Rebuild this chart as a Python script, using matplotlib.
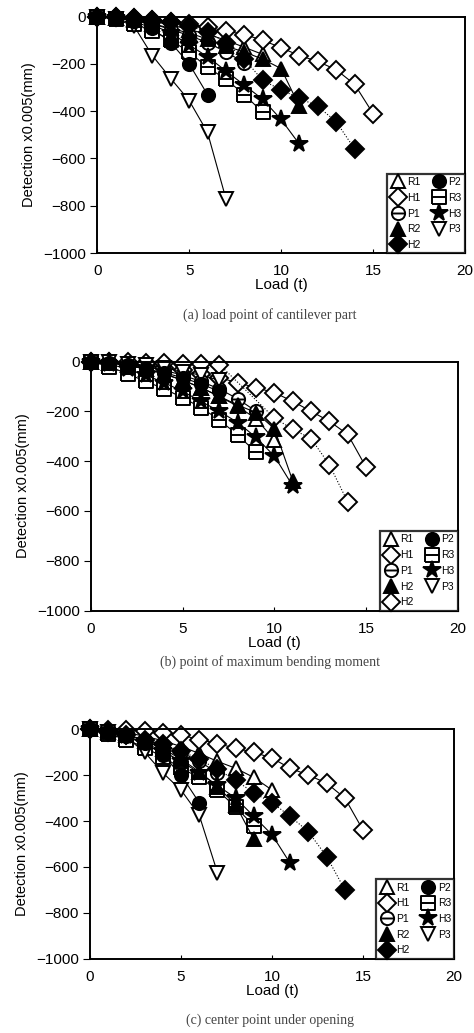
import matplotlib
matplotlib.use("Agg")
import matplotlib.pyplot as plt
from matplotlib.path import Path

# marker shapes: circle / square with a horizontal bar
circ_bar = Path.make_compound_path(Path.unit_circle(), Path([[-1, 0], [1, 0]]))
sq_bar = Path.make_compound_path(
    Path([[-1, -1], [1, -1], [1, 1], [-1, 1], [-1, -1]]), Path([[-1, 0], [1, 0]]))

# ---- (a) load point of cantilever part ----
a_R1 = [0, -5, -10, -20, -35, -55, -75, -100, -130, -160]
a_H1 = [0, -3, -8, -14, -22, -32, -45, -61, -76, -100, -132, -165, -190, -225, -287, -410]
a_P1 = [0, -5, -15, -30, -55, -80, -110, -150, -195]
a_R2 = [0, -5, -15, -30, -50, -70, -95, -125, -150, -180, -220, -380]
a_H2 = [0, -3, -8, -15, -25, -40, -65, -110, -180, -270, -310, -345, -380, -445, -560]
a_P2 = [0, -5, -20, -50, -110, -200, -330]
a_R3 = [0, -10, -30, -60, -100, -150, -215, -265, -330, -405]
a_H3 = [0, -5, -15, -35, -70, -120, -170, -230, -290, -350, -435, -540]
a_P3 = [0, -10, -40, -165, -262, -355, -490, -770]

# ---- (b) point of maximum bending moment ----
b_R1 = [0, -5, -15, -30, -50, -75, -105, -140, -180, -230, -315]
b_H1 = [0, -3, -8, -15, -25, -35, -50, -65, -85, -105, -125, -160, -200, -240, -293, -425]
b_P1 = [0, -5, -10, -20, -35, -55, -80, -110, -150, -200]
b_R2 = [0, -5, -15, -30, -50, -75, -105, -140, -175, -205, -270, -480]
b_H2x = [0, 1, 2, 3, 4, 5, 6, 7, 10, 11, 12, 13, 14]
b_H2 = [0, -1, -2, -4, -6, -8, -10, -12, -227, -272, -310, -415, -565]
b_P2 = [0, -5, -15, -30, -45, -65, -90, -120]
b_R3 = [0, -20, -50, -80, -110, -145, -185, -235, -295, -365]
b_H3 = [0, -10, -30, -55, -85, -120, -160, -200, -245, -305, -380, -500]
b_P3 = [0, -3, -8, -15, -25, -40, -55, -75]

# ---- (c) center point under opening ----
c_R1 = [0, -5, -15, -30, -50, -75, -105, -140, -170, -210, -265]
c_H1 = [0, -2, -4, -8, -14, -25, -45, -62, -83, -100, -126, -170, -200, -235, -300, -440]
c_P1 = [0, -10, -25, -45, -70, -100, -140, -190]
c_R2 = [0, -10, -25, -50, -85, -130, -185, -250, -330, -480]
c_H2 = [0, -10, -25, -45, -65, -95, -130, -175, -222, -278, -320, -380, -447, -555, -700]
c_P2 = [0, -10, -30, -60, -110, -200, -320]
c_R3 = [0, -20, -45, -80, -120, -170, -210, -265, -340, -420]
c_H3 = [0, -10, -30, -60, -95, -140, -190, -245, -300, -380, -460, -585]
c_P3 = [0, -10, -35, -100, -190, -265, -375, -625]

captions = ["(a) load point of cantilever part",
            "(b) point of maximum bending moment",
            "(c) center point under opening"]

# marker style per series name: (marker, filled)
styles = {
    "R1": ("^", False), "H1": ("D", False), "P1": (circ_bar, False),
    "R2": ("^", True), "H2": ("D", True), "P2": ("o", True),
    "R3": (sq_bar, False), "H3": ("*", True), "P3": ("v", False),
    "H2o": ("D", False),
}

panels = [
    [("R1", "R1", None, a_R1), ("H1", "H1", None, a_H1), ("P1", "P1", None, a_P1),
     ("R2", "R2", None, a_R2), ("H2", "H2", None, a_H2), ("P2", "P2", None, a_P2),
     ("R3", "R3", None, a_R3), ("H3", "H3", None, a_H3), ("P3", "P3", None, a_P3)],
    [("R1", "R1", None, b_R1), ("H1", "H1", None, b_H1), ("P1", "P1", None, b_P1),
     ("R2", "H2", None, b_R2), ("H2o", "H2", b_H2x, b_H2), ("P2", "P2", None, b_P2),
     ("R3", "R3", None, b_R3), ("H3", "H3", None, b_H3), ("P3", "P3", None, b_P3)],
    [("R1", "R1", None, c_R1), ("H1", "H1", None, c_H1), ("P1", "P1", None, c_P1),
     ("R2", "R2", None, c_R2), ("H2", "H2", None, c_H2), ("P2", "P2", None, c_P2),
     ("R3", "R3", None, c_R3), ("H3", "H3", None, c_H3), ("P3", "P3", None, c_P3)],
]

# axes rectangles [left, bottom, width, height] in figure fraction
rects = [[0.205, 0.755, 0.776, 0.229],
         [0.192, 0.409, 0.774, 0.241],
         [0.190, 0.072, 0.768, 0.222]]
cap_y = [0.688, 0.352, 0.006]

plt.rcParams['font.family'] = ['Liberation Sans', 'DejaVu Sans']

fig = plt.figure(figsize=(4.74, 10.33), dpi=100)

for series, rect, cap, cy in zip(panels, rects, captions, cap_y):
    ax = fig.add_axes(rect)
    for key, label, xs, ys in series:
        mk, filled = styles[key]
        if xs is None:
            xs = list(range(len(ys)))
        ls = ':' if key in ("H2", "H2o") else '-'
        ms = 13 if mk == "*" else 9.5
        ax.plot(xs, ys, linestyle=ls, color='black', linewidth=0.8,
                marker=mk, markersize=ms, markeredgewidth=1.4,
                markeredgecolor='black',
                markerfacecolor='black' if filled else 'white',
                label=label, clip_on=False, zorder=3 if filled else 2)
    ax.set_xlim(0, 20)
    ax.set_ylim(-1000, 0)
    ax.set_xticks([0, 5, 10, 15, 20])
    ax.set_yticks([-1000, -800, -600, -400, -200, 0])
    ax.set_yticklabels(['\u22121000', '\u2212800', '\u2212600', '\u2212400', '\u2212200', '0'])
    ax.tick_params(axis='x', direction='in', length=3, labelsize=11, pad=8)
    ax.tick_params(axis='y', direction='out', length=5, labelsize=11, pad=3)
    for s in ax.spines.values():
        s.set_linewidth(1.4)
    ax.set_xlabel('Load (t)', fontsize=11, labelpad=0)
    ax.set_ylabel('Detection x0.005(mm)', fontsize=10.5, labelpad=5)
    leg = ax.legend(loc='lower right', ncol=2, fontsize=7.5, frameon=True,
                    fancybox=False, borderaxespad=0.0, handlelength=1.4,
                    handletextpad=0.2, columnspacing=1.1, labelspacing=0.55,
                    borderpad=0.3, markerscale=1.0)
    leg.get_frame().set_edgecolor('black')
    leg.get_frame().set_linewidth(1.6)
    leg.set_zorder(5)
    for h in leg.legend_handles:
        h.set_linestyle('none')
    fig.text(0.57, cy, cap, ha='center', va='bottom', fontsize=10,
             family=['Liberation Serif', 'DejaVu Serif'], color='#444444')

fig.savefig('out.png', dpi=100)
